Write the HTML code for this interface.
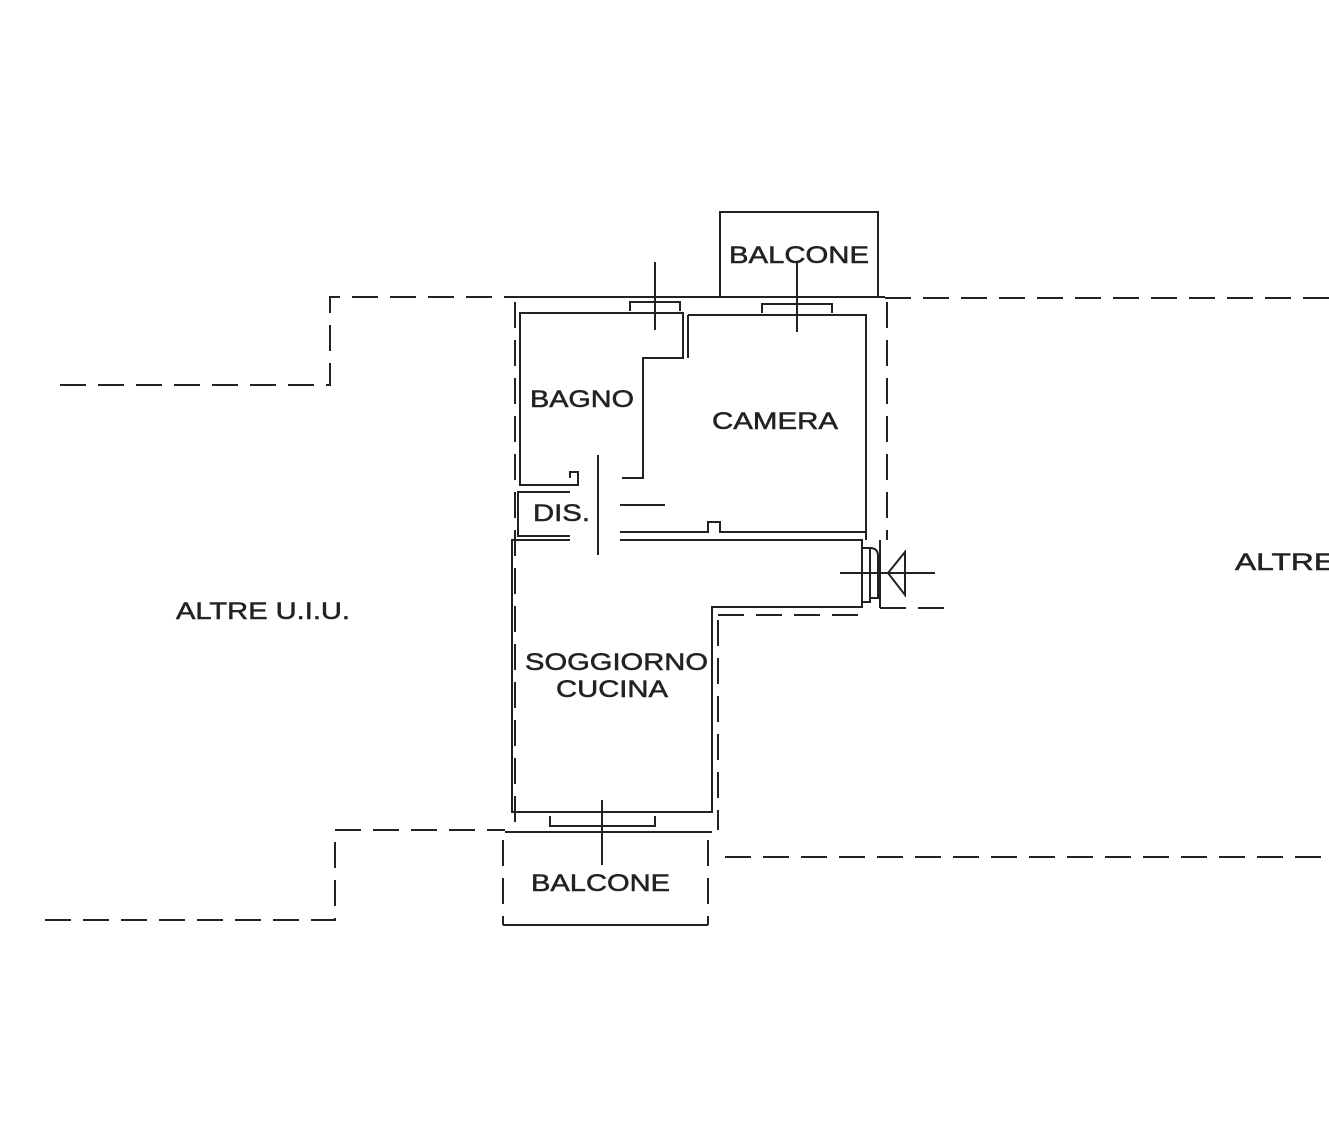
<!DOCTYPE html>
<html><head><meta charset="utf-8"><style>
html,body{margin:0;padding:0;background:#fff;}
svg{display:block;}
text{font-family:"Liberation Sans",sans-serif;fill:#222;stroke:#222;stroke-width:0.5;}
</style></head><body>
<svg width="1329" height="1134" viewBox="0 0 1329 1134" xmlns="http://www.w3.org/2000/svg">
<rect width="1329" height="1134" fill="#fff"/>
<g fill="none" stroke="#222" stroke-width="2">
<g stroke-dasharray="26,12">
<path d="M60 385 H330 V297 H515"/>
<path d="M885 298 H1329"/>
<path d="M515 302 V830"/>
<path d="M887 302 V540"/>
<path d="M718 615 H862"/>
<path d="M718 620 V830"/>
<path d="M880 608 H952"/>
<path d="M45 920 H335 V830 H505"/>
<path d="M725 857 H1329"/>
<path d="M503 840 V925"/>
<path d="M708 840 V925"/>
</g>
<path d="M515 297 H885"/>
<path d="M720 297 V212 H878 V297"/>
<path d="M797 262 V332"/>
<path d="M630 311 V302 H680 V311"/>
<path d="M762 313 V304 H832 V313"/>
<path d="M655 262 V330"/>
<path d="M570 478 V472 H578 V485 H520 V313 H683 V358 H643 V478 H622"/>
<path d="M688 315 V358"/>
<path d="M688 315 H866 V532 H720 V522 H708 V532 H620"/>
<path d="M866 532 V540"/>
<path d="M570 492 H518 V536 H570"/>
<path d="M598 455 V555"/>
<path d="M620 505 H665"/>
<path d="M570 540 H512 V812 H712 V607 H862 V540 H620"/>
<path d="M862 548 H870 V602 H862"/>
<path d="M870 548 Q878 548 878 556 V598 H870"/>
<path d="M880 540 V608"/>
<path d="M840 573 H935"/>
<path d="M905 552 L888 573 L905 595 Z"/>
<path d="M505 832 H712"/>
<path d="M550 816 V826 H655 V816"/>
<path d="M602 800 V865"/>
<path d="M503 925 H708"/>
</g>
<g font-size="24">
<text x="729" y="263" textLength="140" lengthAdjust="spacingAndGlyphs">BALCONE</text>
<text x="530" y="407" textLength="104" lengthAdjust="spacingAndGlyphs">BAGNO</text>
<text x="712" y="429" textLength="126" lengthAdjust="spacingAndGlyphs">CAMERA</text>
<text x="533" y="521" textLength="57" lengthAdjust="spacingAndGlyphs">DIS.</text>
<text x="525" y="670" textLength="183" lengthAdjust="spacingAndGlyphs">SOGGIORNO</text>
<text x="556" y="697" textLength="112" lengthAdjust="spacingAndGlyphs">CUCINA</text>
<text x="531" y="891" textLength="139" lengthAdjust="spacingAndGlyphs">BALCONE</text>
<text x="176" y="619" textLength="174" lengthAdjust="spacingAndGlyphs">ALTRE U.I.U.</text>
<text x="1235" y="570" textLength="100" lengthAdjust="spacingAndGlyphs">ALTRE</text>
</g>
</svg>
</body></html>
